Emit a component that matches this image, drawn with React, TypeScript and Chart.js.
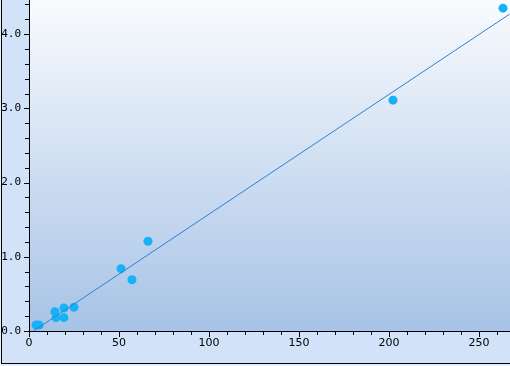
import React, { useEffect, useRef } from "react";
import { Chart, registerables } from "chart.js";

Chart.register(...registerables);

// Data
const sampleX = [3.9, 5.6, 14.4, 15.0, 19.4, 19.4, 25.0, 51.1, 57.2, 66.1, 202.2, 263.3];
const sampleY = [0.08, 0.08, 0.26, 0.18, 0.31, 0.18, 0.32, 0.84, 0.69, 1.21, 3.11, 4.35];
const fitX = [2.5, 267];
const fitY = [0.0, 4.27];
const xTickValues = [0, 50, 100, 150, 200, 250];
const yTickValues = [0, 1, 2, 3, 4];
const xMax = 267.2;
const yMax = 4.46;

const framePlugin = {
  id: "framePlugin",
  beforeDraw(chart: any) {
    const { ctx, chartArea, width, height } = chart;
    ctx.save();
    ctx.fillStyle = "#e4edf9";
    ctx.fillRect(0, 0, width, height);
    ctx.fillStyle = "#d2e3f9";
    ctx.fillRect(1, 0, width - 1, 363);
    const g = ctx.createLinearGradient(0, chartArea.top, 0, chartArea.bottom);
    g.addColorStop(0, "#f9fbfe");
    g.addColorStop(1, "#a7c3e6");
    ctx.fillStyle = g;
    ctx.fillRect(chartArea.left, chartArea.top, chartArea.right - chartArea.left, chartArea.bottom - chartArea.top);
    ctx.fillStyle = "#000";
    ctx.fillRect(1, 0, 1, 364);
    ctx.fillRect(1, 363, width - 1, 1);
    ctx.restore();
  },
  afterDraw(chart: any) {
    const { ctx, scales } = chart;
    const xs = scales.x;
    const ys = scales.y;
    ctx.save();
    ctx.fillStyle = "#000";
    // axis lines
    ctx.fillRect(Math.round(ys.right), chart.chartArea.top, 1, Math.round(xs.top) - chart.chartArea.top + 1);
    ctx.fillRect(Math.round(ys.right) - 5, Math.round(xs.top), chart.chartArea.right - Math.round(ys.right) + 5, 1);
    for (let i = 0; i <= 26; i++) {
      const v = i * 10;
      const px = Math.round(xs.getPixelForValue(v));
      const major = v % 50 === 0;
      ctx.fillRect(px, Math.round(xs.top), 1, major ? 6 : 4);
    }
    for (let i = 0; i <= 22; i++) {
      const v = i * 0.2;
      const py = Math.round(ys.getPixelForValue(v));
      const major = i % 5 === 0;
      ctx.fillRect(Math.round(ys.right) - (major ? 5 : 4), py, major ? 5 : 4, 1);
    }
    ctx.restore();
  },
};

const zeroPad = (s: any) => {
  s.paddingTop = 0;
  s.paddingBottom = 0;
  s.paddingLeft = 0;
  s.paddingRight = 0;
};

export default function App() {
  const ref = useRef<HTMLCanvasElement>(null);
  useEffect(() => {
    if (!ref.current) return;
    const chart = new Chart(ref.current, {
      type: "scatter",
      data: {
        datasets: [
          {
            type: "line",
            data: fitX.map((x, i) => ({ x, y: fitY[i] })),
            borderColor: "#2f7fd6",
            borderWidth: 1,
            pointRadius: 0,
            fill: false,
          } as any,
          {
            type: "scatter",
            data: sampleX.map((x, i) => ({ x, y: sampleY[i] })),
            backgroundColor: "#17b2f5",
            borderWidth: 0,
            pointRadius: 4.5,
          },
        ],
      },
      options: {
        animation: false,
        responsive: false,
        maintainAspectRatio: false,
        layout: { padding: 0, autoPadding: false },
        plugins: { legend: { display: false }, tooltip: { enabled: false } },
        scales: {
          x: {
            type: "linear",
            min: 0,
            max: xMax,
            afterFit: (s: any) => {
              s.height = 35;
              zeroPad(s);
            },
            afterBuildTicks: (s: any) => {
              s.ticks = xTickValues.map((v) => ({ value: v }));
            },
            grid: { display: true, drawOnChartArea: false, drawTicks: true, tickLength: 5, tickColor: "rgba(0,0,0,0)" },
            border: { display: false },
            ticks: {
              autoSkip: false,
              maxRotation: 0,
              padding: 1,
              color: "#000",
              font: { family: "DejaVu Sans", size: 11 },
              callback: (v: any) => String(v),
            },
          },
          y: {
            type: "linear",
            min: 0,
            max: yMax,
            afterFit: (s: any) => {
              s.width = 29;
              zeroPad(s);
            },
            afterBuildTicks: (s: any) => {
              s.ticks = yTickValues.map((v) => ({ value: v }));
            },
            grid: { display: true, drawOnChartArea: false, drawTicks: true, tickLength: 5, tickColor: "rgba(0,0,0,0)" },
            border: { display: false },
            ticks: {
              autoSkip: false,
              padding: 3,
              color: "#000",
              font: { family: "DejaVu Sans Mono", size: 11 },
              callback: (v: any) => Number(v).toFixed(1),
            },
          },
        },
      },
      plugins: [framePlugin],
    });
    return () => chart.destroy();
  }, []);
  return (
    <div style={{ position: "fixed", left: 0, top: 0, width: 510, height: 366 }}>
      <canvas ref={ref} width={510} height={366} style={{ width: 510, height: 366, display: "block" }} />
    </div>
  );
}
